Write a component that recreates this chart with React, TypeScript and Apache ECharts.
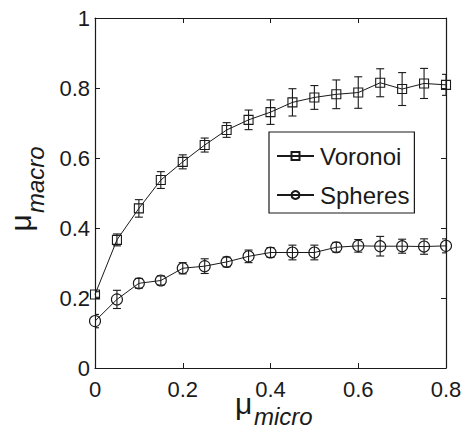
import React, { useEffect, useRef } from "react";
import * as echarts from "echarts";

const xValues = [0, 0.05, 0.1, 0.15, 0.2, 0.25, 0.3, 0.35, 0.4, 0.45, 0.5, 0.55, 0.6, 0.65, 0.7, 0.75, 0.8];
const voronoi = [0.21, 0.366, 0.456, 0.537, 0.589, 0.637, 0.68, 0.709, 0.731, 0.759, 0.773, 0.782, 0.787, 0.815, 0.797, 0.813, 0.809];
const voronoiErr = [0.008, 0.017, 0.025, 0.024, 0.02, 0.02, 0.021, 0.028, 0.035, 0.039, 0.034, 0.041, 0.045, 0.04, 0.047, 0.043, 0.03];
const spheres = [0.134, 0.196, 0.242, 0.25, 0.285, 0.291, 0.303, 0.319, 0.33, 0.33, 0.33, 0.345, 0.349, 0.348, 0.348, 0.347, 0.349];
const spheresErr = [0.019, 0.026, 0.014, 0.013, 0.016, 0.021, 0.014, 0.018, 0.014, 0.021, 0.021, 0.014, 0.018, 0.028, 0.02, 0.022, 0.02];
const seriesNames = ["Voronoi", "Spheres"];

const FONT = "'Liberation Sans', Arial, Helvetica, sans-serif";
const INK = "#1a1a1a";

function errRender(params: any, api: any) {
  const x = api.value(0);
  const lo = api.coord([x, api.value(1)]);
  const hi = api.coord([x, api.value(2)]);
  const cap = 4;
  const st = { stroke: INK, lineWidth: 1.1 };
  return {
    type: "group",
    children: [
      { type: "line", shape: { x1: lo[0], y1: lo[1], x2: hi[0], y2: hi[1] }, style: st },
      { type: "line", shape: { x1: lo[0] - cap, y1: lo[1], x2: lo[0] + cap, y2: lo[1] }, style: st },
      { type: "line", shape: { x1: hi[0] - cap, y1: hi[1], x2: hi[0] + cap, y2: hi[1] }, style: st },
    ],
  };
}

export default function App() {
  const ref = useRef<HTMLDivElement>(null);
  useEffect(() => {
    if (!ref.current) return;
    const chart = echarts.init(ref.current, null, { renderer: "svg" });
    const axisCommon = {
      type: "value" as const,
      axisLine: { show: true, onZero: false, lineStyle: { color: INK, width: 1.2 } },
      axisTick: { show: true, inside: true, length: 5, lineStyle: { color: INK, width: 1 } },
      splitLine: { show: false },
    };
    const vData = xValues.map((x, i) => [x, voronoi[i]]);
    const sData = xValues.map((x, i) => [x, spheres[i]]);
    const vErr = xValues.map((x, i) => [x, voronoi[i] - voronoiErr[i], voronoi[i] + voronoiErr[i]]);
    const sErr = xValues.map((x, i) => [x, spheres[i] - spheresErr[i], spheres[i] + spheresErr[i]]);
    chart.setOption({
      animation: false,
      grid: { left: 95, top: 18, right: 22, bottom: 63, containLabel: false },
      xAxis: [
        {
          ...axisCommon,
          position: "bottom",
          min: 0,
          max: 0.8,
          interval: 0.2,
          axisLabel: { show: true, color: INK, fontSize: 22, fontFamily: FONT, margin: 10 },
        },
        {
          ...axisCommon,
          position: "top",
          min: 0,
          max: 0.8,
          interval: 0.2,
          axisLabel: { show: false },
        },
      ],
      yAxis: [
        {
          ...axisCommon,
          position: "left",
          min: 0,
          max: 1,
          interval: 0.2,
          axisLabel: { show: true, color: INK, fontSize: 22, fontFamily: FONT, margin: 5 },
        },
        {
          ...axisCommon,
          position: "right",
          min: 0,
          max: 1,
          interval: 0.2,
          axisLabel: { show: false },
        },
      ],
      legend: {
        data: seriesNames,
        orient: "vertical",
        left: 269,
        top: 132,
        itemWidth: 37,
        itemHeight: 10,
        itemGap: 11,
        padding: [10, 5, 4, 7],
        borderColor: INK,
        borderWidth: 1.2,
        backgroundColor: "#fff",
        selectedMode: false,
        textStyle: { fontSize: 24, fontFamily: FONT, color: INK, lineHeight: 28, padding: [0, 0, 0, 1] },
      },
      series: [
        {
          name: "VoronoiErr",
          type: "custom",
          renderItem: errRender,
          data: vErr,
          encode: { x: 0, y: [1, 2] },
          clip: true,
          z: 1,
        },
        {
          name: "SpheresErr",
          type: "custom",
          renderItem: errRender,
          data: sErr,
          encode: { x: 0, y: [1, 2] },
          clip: true,
          z: 1,
        },
        {
          name: seriesNames[0],
          type: "line",
          data: vData,
          symbol: "rect",
          symbolSize: 9,
          showAllSymbol: true,
          lineStyle: { color: INK, width: 1 },
          itemStyle: { color: "transparent", borderColor: INK, borderWidth: 1.1 },
          z: 2,
        },
        {
          name: seriesNames[1],
          type: "line",
          data: sData,
          symbol: "circle",
          symbolSize: 11,
          showAllSymbol: true,
          lineStyle: { color: INK, width: 1 },
          itemStyle: { color: "transparent", borderColor: INK, borderWidth: 1.1 },
          z: 2,
        },
      ],
      graphic: [
        {
          type: "text",
          x: 235,
          y: 403,
          style: { text: "μ", font: `30px ${FONT}`, fill: INK, textAlign: "left", verticalAlign: "middle", lineHeight: 30 },
        },
        {
          type: "text",
          x: 254,
          y: 416.6,
          style: { text: "micro", font: `italic 24px ${FONT}`, fill: INK, textAlign: "left", verticalAlign: "middle", lineHeight: 24 },
        },
        {
          type: "text",
          x: 20.2,
          y: 231.5,
          rotation: Math.PI / 2,
          style: { text: "μ", font: `30px ${FONT}`, fill: INK, textAlign: "left", verticalAlign: "middle", lineHeight: 30 },
        },
        {
          type: "text",
          x: 35,
          y: 213,
          rotation: Math.PI / 2,
          style: { text: "macro", font: `italic 24px ${FONT}`, fill: INK, textAlign: "left", verticalAlign: "middle", lineHeight: 24 },
        },
      ],
    });
    return () => chart.dispose();
  }, []);
  return <div ref={ref} style={{ position: "absolute", left: 0, top: 0, width: 468, height: 431 }} />;
}
